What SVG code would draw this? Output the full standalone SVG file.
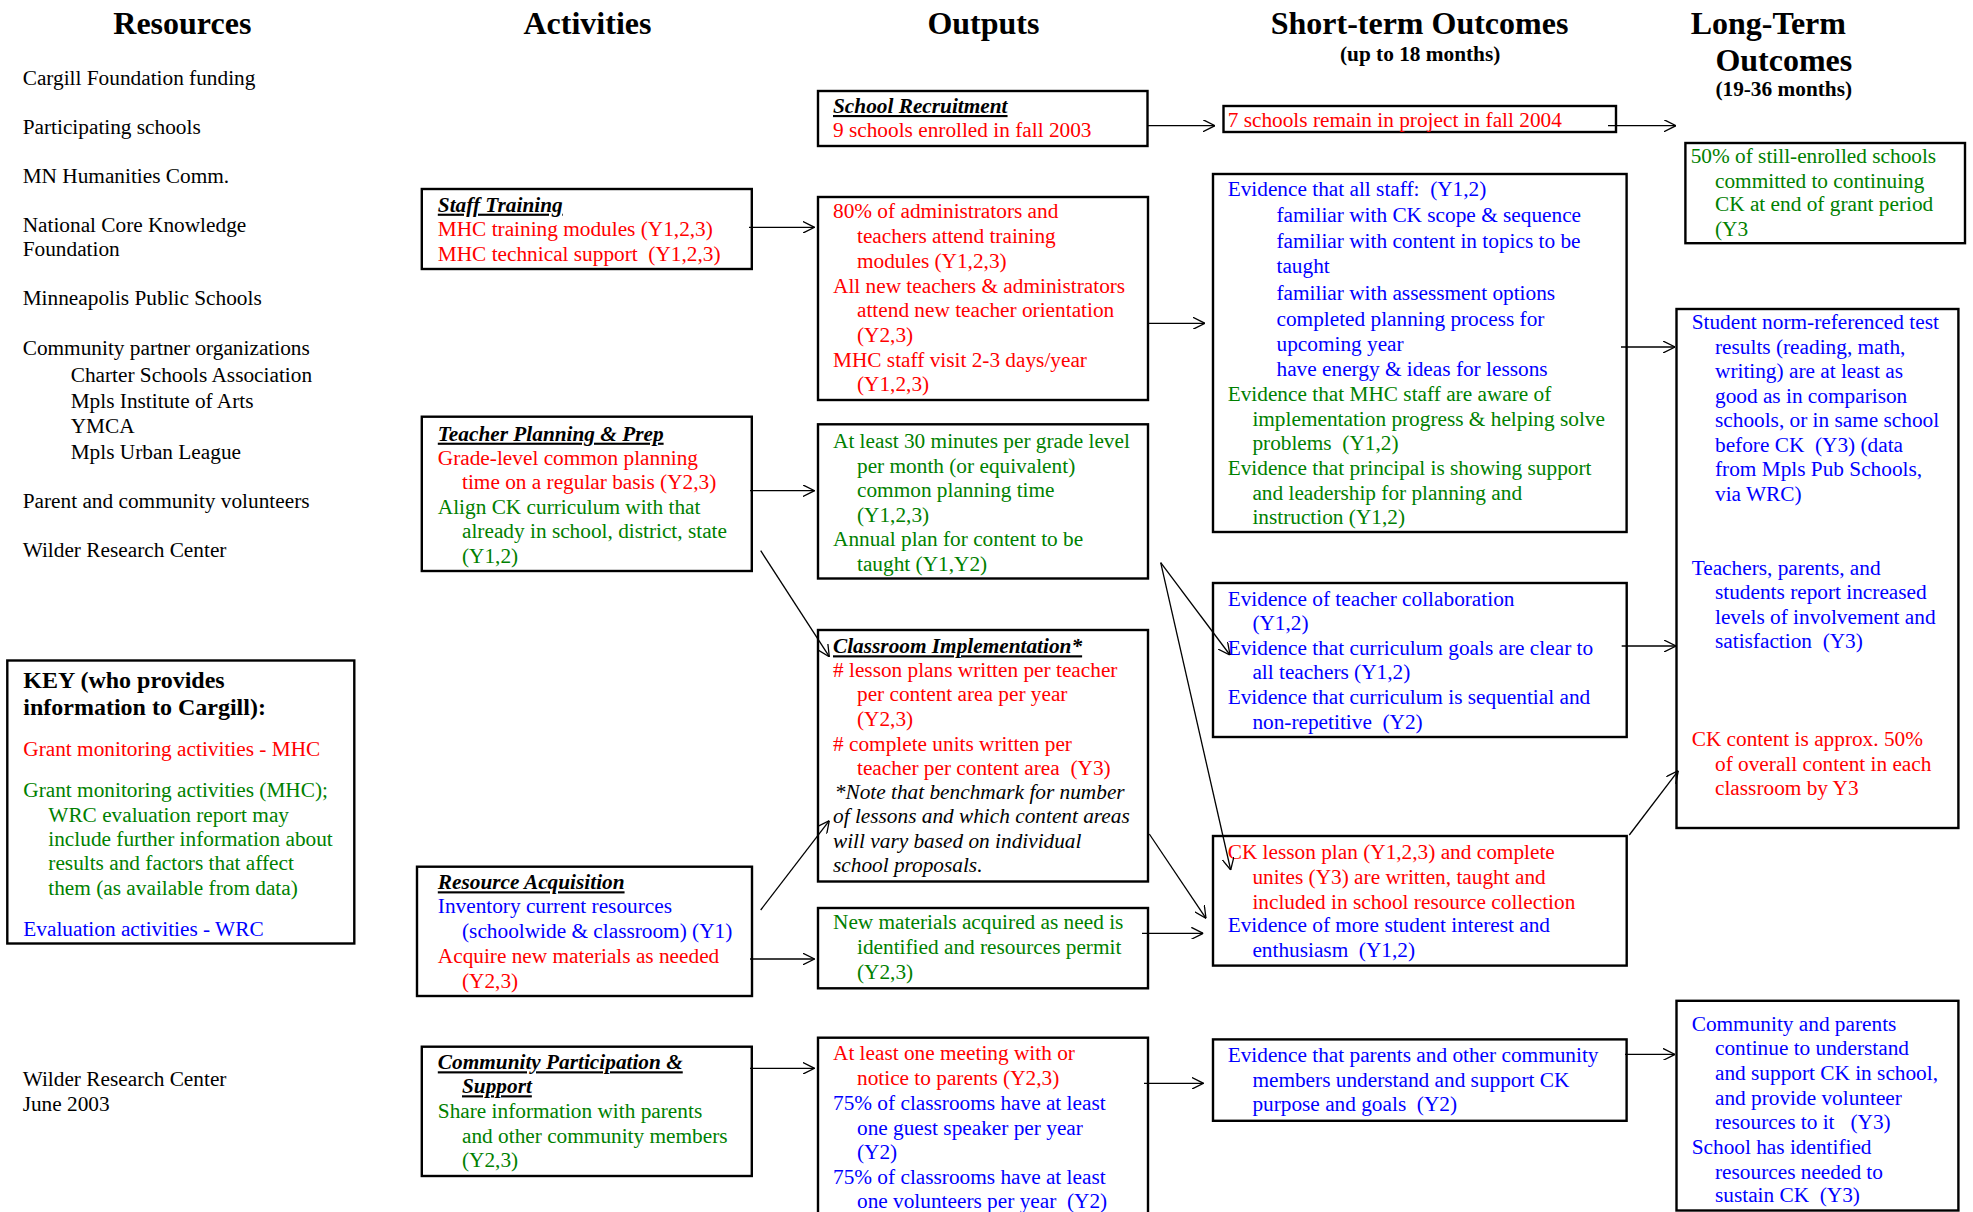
<svg xmlns="http://www.w3.org/2000/svg" width="1973" height="1212" viewBox="0 0 1973 1212" xml:space="preserve">
<style>
text{font-family:"Liberation Serif","Times New Roman",serif;font-size:21.3px;fill:#000;white-space:pre}
.h{font-size:32px;font-weight:bold}
.hs{font-size:21.3px;font-weight:bold}
.t{font-weight:bold;font-style:italic;text-decoration:underline}
.r{fill:#ff0000}
.g{fill:#008000}
.b{fill:#0000ff}
.i{font-style:italic}
.k{font-size:24px;font-weight:bold}
.box{fill:none;stroke:#000;stroke-width:2.4}
.c line{stroke:#000;stroke-width:1.3;marker-end:url(#ah)}
</style>
<defs>
<marker id="ah" viewBox="0 0 12 12" refX="12" refY="6" markerWidth="12" markerHeight="12" markerUnits="userSpaceOnUse" orient="auto">
<path d="M0,0 L12,6 L0,12" fill="none" stroke="#000" stroke-width="1.3"/>
</marker>
</defs>
<rect width="1973" height="1212" fill="#fff"/>

<g id="headers">
<text class="h" x="113.3" y="34">Resources</text>
<text class="h" x="523.5" y="34">Activities</text>
<text class="h" x="927.4" y="34">Outputs</text>
<text class="h" x="1270.7" y="34">Short-term Outcomes</text>
<text class="hs" x="1340" y="60.7">(up to 18 months)</text>
<text class="h" x="1690.7" y="34">Long-Term</text>
<text class="h" x="1715.4" y="71.4">Outcomes</text>
<text class="hs" x="1715.4" y="96.4">(19-36 months)</text>
</g>

<g id="resources">
<text x="22.7" y="85">Cargill Foundation funding</text>
<text x="22.7" y="134">Participating schools</text>
<text x="22.7" y="183">MN Humanities Comm.</text>
<text x="22.7" y="231.5">National Core Knowledge</text>
<text x="22.7" y="255.6">Foundation</text>
<text x="22.7" y="305">Minneapolis Public Schools</text>
<text x="22.7" y="355">Community partner organizations</text>
<text x="70.7" y="381.5">Charter Schools Association</text>
<text x="70.7" y="407.6">Mpls Institute of Arts</text>
<text x="70.7" y="433">YMCA</text>
<text x="70.7" y="459">Mpls Urban League</text>
<text x="22.7" y="508">Parent and community volunteers</text>
<text x="22.7" y="557">Wilder Research Center</text>
</g>

<g id="key">
<rect class="box" x="7.3" y="660.5" width="347" height="283"/>
<text class="k" x="23.3" y="687.8">KEY (who provides</text>
<text class="k" x="23.3" y="715.1">information to Cargill):</text>
<text class="r" x="23.3" y="756.1">Grant monitoring activities - MHC</text>
<text class="g" x="23.3" y="797.1">Grant monitoring activities (MHC);</text>
<text class="g" x="48.3" y="821.7">WRC evaluation report may</text>
<text class="g" x="48.3" y="845.9">include further information about</text>
<text class="g" x="48.3" y="870.1">results and factors that affect</text>
<text class="g" x="48.3" y="894.7">them (as available from data)</text>
<text class="b" x="23.3" y="935.7">Evaluation activities - WRC</text>
</g>

<g id="credit">
<text x="22.7" y="1086">Wilder Research Center</text>
<text x="22.7" y="1110.5">June 2003</text>
</g>

<g id="staff-training">
<rect class="box" x="421.8" y="189" width="330" height="80"/>
<text class="t" x="437.8" y="211.7">Staff Training</text>
<text class="r" x="437.8" y="236">MHC training modules (Y1,2,3)</text>
<text class="r" x="437.8" y="261">MHC technical support  (Y1,2,3)</text>
</g>

<g id="teacher-planning">
<rect class="box" x="421.8" y="416.7" width="330" height="154.3"/>
<text class="t" x="437.8" y="440.7">Teacher Planning &amp; Prep</text>
<text class="r" x="437.8" y="465">Grade-level common planning</text>
<text class="r" x="462" y="489.3">time on a regular basis (Y2,3)</text>
<text class="g" x="437.8" y="514.3">Align CK curriculum with that</text>
<text class="g" x="462" y="537.7">already in school, district, state</text>
<text class="g" x="462" y="563.3">(Y1,2)</text>
</g>

<g id="resource-acquisition">
<rect class="box" x="417" y="866.7" width="335" height="129.3"/>
<text class="t" x="437.8" y="889.3">Resource Acquisition</text>
<text class="b" x="437.8" y="913.3">Inventory current resources</text>
<text class="b" x="462" y="938.3">(schoolwide &amp; classroom) (Y1)</text>
<text class="r" x="437.8" y="962.7">Acquire new materials as needed</text>
<text class="r" x="462" y="988.3">(Y2,3)</text>
</g>

<g id="community-participation">
<rect class="box" x="421.8" y="1046.7" width="330" height="129.3"/>
<text class="t" x="437.8" y="1069.3">Community Participation &amp;</text>
<text class="t" x="462" y="1093.3">Support</text>
<text class="g" x="437.8" y="1118.3">Share information with parents</text>
<text class="g" x="462" y="1142.7">and other community members</text>
<text class="g" x="462" y="1166.7">(Y2,3)</text>
</g>

<g id="school-recruitment">
<rect class="box" x="818" y="91" width="329.5" height="55"/>
<text class="t" x="833" y="113">School Recruitment</text>
<text class="r" x="833" y="137">9 schools enrolled in fall 2003</text>
</g>

<g id="training-outputs">
<rect class="box" x="818" y="197" width="330" height="203"/>
<text class="r" x="833" y="218">80% of administrators and</text>
<text class="r" x="857" y="243">teachers attend training</text>
<text class="r" x="857" y="268">modules (Y1,2,3)</text>
<text class="r" x="833" y="292.7">All new teachers &amp; administrators</text>
<text class="r" x="857" y="316.7">attend new teacher orientation</text>
<text class="r" x="857" y="341.7">(Y2,3)</text>
<text class="r" x="833" y="366.7">MHC staff visit 2-3 days/year</text>
<text class="r" x="857" y="390.7">(Y1,2,3)</text>
</g>

<g id="planning-outputs">
<rect class="box" x="818" y="424.3" width="330" height="154.2"/>
<text class="g" x="833" y="447.7">At least 30 minutes per grade level</text>
<text class="g" x="857" y="472.7">per month (or equivalent)</text>
<text class="g" x="857" y="496.7">common planning time</text>
<text class="g" x="857" y="521.7">(Y1,2,3)</text>
<text class="g" x="833" y="546">Annual plan for content to be</text>
<text class="g" x="857" y="570.7">taught (Y1,Y2)</text>
</g>

<g id="classroom-implementation">
<rect class="box" x="818" y="630" width="330" height="251.5"/>
<text class="t" x="833" y="653.3">Classroom Implementation*</text>
<text class="r" x="833" y="676.7"># lesson plans written per teacher</text>
<text class="r" x="857" y="701">per content area per year</text>
<text class="r" x="857" y="726">(Y2,3)</text>
<text class="r" x="833" y="750.7"># complete units written per</text>
<text class="r" x="857" y="775">teacher per content area  (Y3)</text>
<text class="i" x="834.8" y="799.3">*Note that benchmark for number</text>
<text class="i" x="833" y="823.3">of lessons and which content areas</text>
<text class="i" x="833" y="848.3">will vary based on individual</text>
<text class="i" x="833" y="871.7">school proposals.</text>
</g>

<g id="new-materials">
<rect class="box" x="818" y="908" width="330" height="80.3"/>
<text class="g" x="833" y="929.3">New materials acquired as need is</text>
<text class="g" x="857" y="954">identified and resources permit</text>
<text class="g" x="857" y="979.3">(Y2,3)</text>
</g>

<g id="community-outputs">
<rect class="box" x="818" y="1037.7" width="330" height="190"/>
<text class="r" x="833" y="1060">At least one meeting with or</text>
<text class="r" x="857" y="1085">notice to parents (Y2,3)</text>
<text class="b" x="833" y="1110">75% of classrooms have at least</text>
<text class="b" x="857" y="1135">one guest speaker per year</text>
<text class="b" x="857" y="1159.3">(Y2)</text>
<text class="b" x="833" y="1184">75% of classrooms have at least</text>
<text class="b" x="857" y="1208.3">one volunteers per year  (Y2)</text>
</g>

<g id="schools-remain">
<rect class="box" x="1223.5" y="106" width="392.5" height="26"/>
<text class="r" x="1227.7" y="126.8">7 schools remain in project in fall 2004</text>
</g>

<g id="staff-evidence">
<rect class="box" x="1213" y="174" width="413.6" height="358"/>
<text class="b" x="1227.7" y="196.4">Evidence that all staff:  (Y1,2)</text>
<text class="b" x="1276.5" y="222.1">familiar with CK scope &amp; sequence</text>
<text class="b" x="1276.5" y="248.2">familiar with content in topics to be</text>
<text class="b" x="1276.5" y="273.2">taught</text>
<text class="b" x="1276.5" y="300">familiar with assessment options</text>
<text class="b" x="1276.5" y="325.7">completed planning process for</text>
<text class="b" x="1276.5" y="350.7">upcoming year</text>
<text class="b" x="1276.5" y="376">have energy &amp; ideas for lessons</text>
<text class="g" x="1227.7" y="400.7">Evidence that MHC staff are aware of</text>
<text class="g" x="1252.4" y="425.7">implementation progress &amp; helping solve</text>
<text class="g" x="1252.4" y="450">problems  (Y1,2)</text>
<text class="g" x="1227.7" y="475">Evidence that principal is showing support</text>
<text class="g" x="1252.4" y="500">and leadership for planning and</text>
<text class="g" x="1252.4" y="524">instruction (Y1,2)</text>
</g>

<g id="collaboration-evidence">
<rect class="box" x="1213" y="583" width="413.7" height="154"/>
<text class="b" x="1227.7" y="606.4">Evidence of teacher collaboration</text>
<text class="b" x="1252.4" y="630">(Y1,2)</text>
<text class="b" x="1227.7" y="654.9">Evidence that curriculum goals are clear to</text>
<text class="b" x="1252.4" y="679.3">all teachers (Y1,2)</text>
<text class="b" x="1227.7" y="704.2">Evidence that curriculum is sequential and</text>
<text class="b" x="1252.4" y="728.6">non-repetitive  (Y2)</text>
</g>

<g id="lesson-evidence">
<rect class="box" x="1213" y="836" width="413.7" height="129.6"/>
<text class="r" x="1227.7" y="859.3">CK lesson plan (Y1,2,3) and complete</text>
<text class="r" x="1252.4" y="884.2">unites (Y3) are written, taught and</text>
<text class="r" x="1252.4" y="908.6">included in school resource collection</text>
<text class="b" x="1227.7" y="932.2">Evidence of more student interest and</text>
<text class="b" x="1252.4" y="957">enthusiasm  (Y1,2)</text>
</g>

<g id="community-evidence">
<rect class="box" x="1213" y="1039.4" width="413.6" height="81.4"/>
<text class="b" x="1227.7" y="1062">Evidence that parents and other community</text>
<text class="b" x="1252.4" y="1086.5">members understand and support CK</text>
<text class="b" x="1252.4" y="1111.4">purpose and goals  (Y2)</text>
</g>

<g id="commitment">
<rect class="box" x="1685.4" y="143" width="279.6" height="100.2"/>
<text class="g" x="1690.7" y="162.5">50% of still-enrolled schools</text>
<text class="g" x="1715" y="187.5">committed to continuing</text>
<text class="g" x="1715" y="211.4">CK at end of grant period</text>
<text class="g" x="1715" y="236.4">(Y3</text>
</g>

<g id="student-results">
<rect class="box" x="1676.5" y="309" width="281.9" height="519"/>
<text class="b" x="1691.7" y="328.6">Student norm-referenced test</text>
<text class="b" x="1715" y="353.6">results (reading, math,</text>
<text class="b" x="1715" y="377.9">writing) are at least as</text>
<text class="b" x="1715" y="402.9">good as in comparison</text>
<text class="b" x="1715" y="426.8">schools, or in same school</text>
<text class="b" x="1715" y="451.8">before CK  (Y3) (data</text>
<text class="b" x="1715" y="476">from Mpls Pub Schools,</text>
<text class="b" x="1715" y="500.7">via WRC)</text>
<text class="b" x="1691.7" y="575.1">Teachers, parents, and</text>
<text class="b" x="1715" y="599.2">students report increased</text>
<text class="b" x="1715" y="623.6">levels of involvement and</text>
<text class="b" x="1715" y="648">satisfaction  (Y3)</text>
<text class="r" x="1691.7" y="745.7">CK content is approx. 50%</text>
<text class="r" x="1715" y="770.6">of overall content in each</text>
<text class="r" x="1715" y="795">classroom by Y3</text>
</g>

<g id="community-longterm">
<rect class="box" x="1676.5" y="1000.8" width="281.9" height="209.7"/>
<text class="b" x="1691.7" y="1030.8">Community and parents</text>
<text class="b" x="1715" y="1055.2">continue to understand</text>
<text class="b" x="1715" y="1080">and support CK in school,</text>
<text class="b" x="1715" y="1104.9">and provide volunteer</text>
<text class="b" x="1715" y="1129.4">resources to it   (Y3)</text>
<text class="b" x="1691.7" y="1153.8">School has identified</text>
<text class="b" x="1715" y="1178.7">resources needed to</text>
<text class="b" x="1715" y="1202.2">sustain CK  (Y3)</text>
</g>

<g id="connectors" class="c">
<line x1="1148" y1="125.7" x2="1215" y2="125.7"/>
<line x1="1608" y1="125.7" x2="1676" y2="125.7"/>
<line x1="749" y1="227.3" x2="814.5" y2="227.3"/>
<line x1="1148" y1="323.3" x2="1205" y2="323.3"/>
<line x1="1621" y1="347" x2="1675" y2="347"/>
<line x1="750" y1="490.7" x2="814.5" y2="490.7"/>
<line x1="760.7" y1="550.7" x2="829.3" y2="656.7"/>
<line x1="1160.7" y1="562.7" x2="1230" y2="655"/>
<line x1="1160.7" y1="562.7" x2="1230.7" y2="870"/>
<line x1="1621.7" y1="646" x2="1676" y2="646"/>
<line x1="1149.3" y1="834" x2="1206" y2="918.3"/>
<line x1="1629.3" y1="835" x2="1678.3" y2="770.7"/>
<line x1="760.7" y1="910" x2="829.3" y2="820.7"/>
<line x1="750" y1="959" x2="814.5" y2="959"/>
<line x1="1142" y1="933.3" x2="1203.3" y2="933.3"/>
<line x1="750" y1="1068.3" x2="814.5" y2="1068.3"/>
<line x1="1144" y1="1083.3" x2="1203.5" y2="1083.3"/>
<line x1="1625" y1="1054.4" x2="1675" y2="1054.4"/>
</g>
</svg>
